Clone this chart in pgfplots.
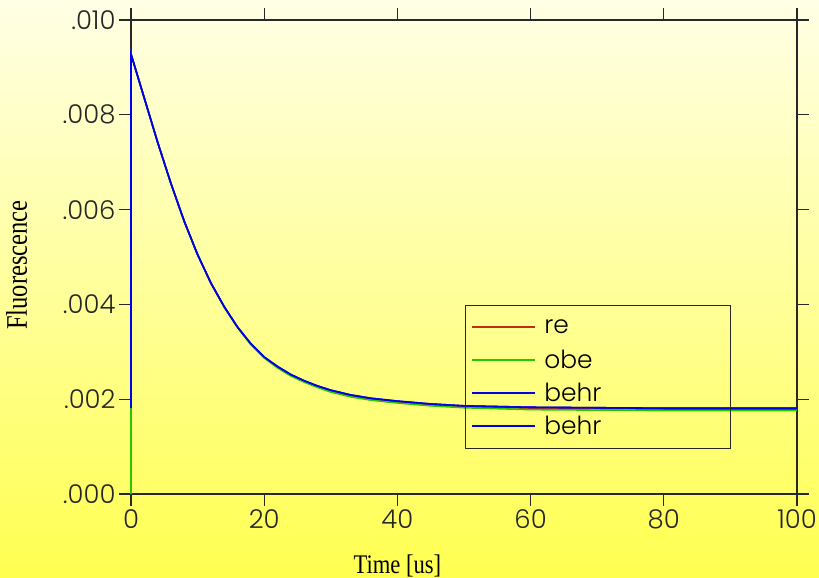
\documentclass[border=0pt]{standalone}
\usepackage{graphicx}
\usepackage{pgfplots}
\pgfplotsset{compat=1.18}
\usepackage{pgfplotstable}
\usepackage{fontspec}
\setmainfont{Liberation Serif}
\newfontfamily\tickfont{Poppins Light}

\definecolor{cred}{RGB}{190,45,20}
\definecolor{cgreen}{RGB}{40,200,0}
\definecolor{cblue}{RGB}{0,0,235}
\definecolor{axgray}{RGB}{40,40,40}

\pgfplotstableread{
x   r        g        bA       bB
0   0        0        0.00181  0.00367
0   0.00928  0.00928  0.00928  0.00928
2   0.00835  0.00835  0.00835  0.00835
4   0.00742  0.00742  0.00742  0.00742
6   0.00655  0.00655  0.00655  0.00655
8   0.00575  0.00575  0.00575  0.00575
10  0.00505  0.00505  0.00505  0.00505
12  0.00445  0.00445  0.00445  0.00445
14  0.00395  0.00394  0.00395  0.00395
16  0.00352  0.00351  0.00352  0.00352
18  0.00316  0.00315  0.00317  0.00317
20  0.00288  0.00287  0.00289  0.00289
22  0.00268  0.00266  0.00269  0.00269
24  0.00251  0.00249  0.00252  0.00252
26  0.00238  0.00236  0.00239  0.00239
28  0.00227  0.00225  0.00228  0.00228
30  0.00217  0.00215  0.00219  0.00219
33  0.00207  0.00205  0.00209  0.00209
36  0.00200  0.00198  0.00202  0.00202
40  0.00194  0.00192  0.00196  0.00196
45  0.00188  0.00186  0.00190  0.00190
50  0.00184  0.00182  0.00186  0.00186
60  0.00181  0.00178  0.00183  0.00183
70  0.00180  0.00177  0.00182  0.00182
80  0.00179  0.00176  0.00181  0.00181
90  0.00179  0.00176  0.00181  0.00181
100 0.00179  0.00176  0.00181  0.00181
}\datatab

\begin{document}
\begin{tikzpicture}
\shade[top color={rgb,255:red,255;green,255;blue,230}, bottom color={rgb,255:red,255;green,255;blue,80}] (0,0) rectangle (819bp,578bp);
\useasboundingbox (0,0) rectangle (819bp,578bp);
\begin{axis}[
  at={(131bp,84bp)}, anchor=south west,
  scale only axis, width=666bp, height=474bp,
  xmin=0, xmax=100, ymin=0, ymax=0.010,
  clip=false,
  xtick={0,20,40,60,80,100}, xticklabels={0,20,40,60,80,100},
  ytick={0,0.002,0.004,0.006,0.008,0.010},
  yticklabels={.000,.002,.004,.006,.008,.010},
  scaled y ticks=false,
  xtick pos=both, ytick pos=both,
  tick align=outside, major tick length=12bp,
  axis line style={axgray, line width=1.2pt},
  tick style={axgray, line width=1.2pt},
  ticklabel style={font=\tickfont\fontsize{26}{26}\selectfont, text=black!85},
  xlabel={\scalebox{0.84}[1]{Time [us]}}, ylabel={\scalebox{0.82}[1]{Fluorescence}},
  xlabel style={font=\fontsize{27}{28}\selectfont, at={(axis description cs:0.4,-0.1667)}, anchor=base},
  ylabel style={font=\fontsize{30}{30}\selectfont, at={(axis description cs:-0.1562,0.483)}, anchor=base},
  legend style={at={(axis description cs:0.5015,0.3987)}, anchor=north west,
    draw=axgray, fill=none, thick,
    font=\tickfont\fontsize{25}{25}\selectfont,
    inner xsep=6bp, inner ysep=5.5bp, row sep=0pt,
    nodes={inner sep=0pt, minimum height=33bp},
    /tikz/every odd column/.append style={column sep=8bp}},
  legend cell align=left,
  legend image code/.code={\draw[#1, line width=2bp, line cap=butt] (0bp,0.3bp) -- (63bp,0.3bp);},
]
\addplot[cred, line width=1.6pt] table[x=x, y=r]{\datatab};
\addlegendentry{\makebox[180bp][l]{re}}
\addplot[cgreen, line width=1.6pt] table[x=x, y=g]{\datatab};
\addlegendentry{\makebox[180bp][l]{obe}}
\addplot[cblue, line width=1.6pt] table[x=x, y=bA]{\datatab};
\addlegendentry{\makebox[180bp][l]{behr}}
\addplot[cblue, line width=1.6pt] table[x=x, y=bB]{\datatab};
\addlegendentry{\makebox[180bp][l]{behr}}
\end{axis}
\end{tikzpicture}
\end{document}
